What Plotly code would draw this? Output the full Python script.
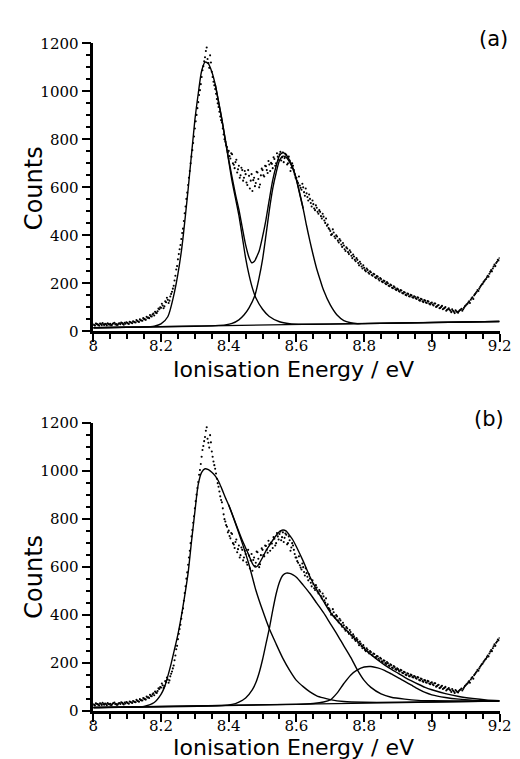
import numpy as np
import plotly.graph_objects as go

# ---------------- data ----------------
# two interleaved sweeps of the same spectrum (0.005 eV steps, offset by half a step)
energy = np.round(np.linspace(8.0, 9.2, 241), 4)
counts = [
    28, 24, 31, 27, 33, 26, 29, 32, 25, 30,
    31, 27, 34, 29, 26, 33, 30, 35, 28, 32,
    36, 31, 38, 34, 40, 37, 43, 39, 46, 44,
    52, 48, 57, 55, 63, 70, 66, 78, 84, 92,
    98, 108, 104, 121, 132, 128, 156, 178, 212, 258,
    300, 342, 385, 428, 492, 552, 610, 668, 728, 785,
    845, 902, 955, 1005, 1060, 1105, 1142, 1183, 1118, 1150,
    1082, 1040, 1010, 968, 935, 895, 870, 820, 790, 768,
    752, 720, 738, 694, 705, 662, 690, 650, 672, 640,
    655, 610, 648, 628, 585, 640, 618, 662, 600, 650,
    672, 645, 688, 660, 695, 702, 680, 718, 700, 728,
    738, 712, 745, 722, 735, 700, 712, 682, 690, 655,
    640, 618, 608, 590, 600, 565, 575, 545, 552, 520,
    530, 505, 515, 490, 498, 470, 478, 452, 440, 430,
    418, 405, 412, 388, 395, 370, 378, 352, 358, 335,
    345, 322, 330, 305, 312, 292, 298, 275, 282, 262,
    265, 250, 256, 240, 246, 232, 238, 222, 228, 212,
    218, 205, 210, 196, 200, 188, 192, 180, 184, 172,
    175, 165, 170, 158, 162, 150, 156, 145, 150, 140,
    144, 135, 140, 128, 134, 122, 128, 118, 124, 112,
    120, 108, 116, 104, 110, 98, 106, 95, 101, 90,
    96, 86, 92, 82, 88, 80, 84, 90, 86, 98,
    108, 115, 125, 132, 142, 150, 160, 172, 178, 190,
    198, 210, 218, 232, 240, 255, 262, 278, 285, 298,
    305,
]
energy2 = np.round(np.linspace(8.0025, 9.1975, 240), 4)
counts2 = [
    26, 33, 29, 24, 31, 35, 27, 30, 34, 28,
    25, 32, 36, 30, 28, 34, 37, 31, 36, 38,
    33, 40, 36, 42, 38, 47, 41, 50, 45, 55,
    50, 61, 58, 68, 62, 74, 82, 76, 95, 100,
    115, 96, 125, 140, 118, 145, 165, 190, 232, 272,
    322, 360, 410, 460, 520, 578, 640, 700, 755, 812,
    875, 930, 985, 1030, 1088, 1125, 1168, 1135, 1098, 1120,
    1060, 1025, 990, 950, 915, 880, 845, 800, 775, 745,
    730, 742, 700, 680, 715, 675, 640, 682, 628, 668,
    620, 672, 595, 655, 630, 605, 665, 635, 612, 678,
    650, 690, 672, 710, 668, 698, 725, 690, 742, 715,
    748, 725, 705, 740, 695, 728, 668, 700, 672, 640,
    625, 645, 598, 615, 580, 595, 560, 570, 535, 545,
    512, 525, 498, 505, 480, 490, 462, 470, 445, 425,
    402, 425, 395, 400, 378, 385, 362, 368, 342, 350,
    330, 338, 315, 320, 298, 305, 285, 290, 270, 275,
    255, 262, 245, 250, 235, 240, 225, 230, 218, 222,
    208, 212, 200, 205, 190, 195, 182, 188, 175, 178,
    168, 172, 160, 164, 152, 158, 146, 152, 142, 146,
    138, 142, 130, 136, 125, 130, 120, 126, 115, 118,
    112, 116, 102, 108, 96, 102, 92, 97, 86, 92,
    90, 80, 86, 76, 84, 78, 88, 94, 92, 104,
    112, 120, 118, 138, 135, 155, 165, 168, 185, 195,
    205, 215, 225, 228, 248, 250, 270, 272, 290, 295,
]

baseline_E = [8.0, 9.2]
baseline_C = [15, 42]

# panel (a): two components and their sum
a1_E = [8.00, 8.10, 8.15, 8.18, 8.20, 8.22, 8.24, 8.26, 8.28, 8.30, 8.31, 8.32, 8.33, 8.34,
        8.35, 8.36, 8.37, 8.38, 8.39, 8.40, 8.41, 8.42, 8.43, 8.44, 8.45, 8.46, 8.47, 8.48,
        8.50, 8.52, 8.55, 8.58, 8.62, 8.70, 9.20]
a1_C = [15, 17, 18.5, 22, 31, 61, 165, 332, 590, 880, 990, 1085, 1122, 1115,
        1082, 1030, 955, 880, 795, 710, 625, 555, 484, 395, 305, 235, 180, 140,
        92, 62, 40, 32, 29.5, 30, 41]

a2_E = [8.00, 8.30, 8.36, 8.39, 8.41, 8.43, 8.445, 8.46, 8.477, 8.49, 8.50, 8.51, 8.52, 8.53,
        8.54, 8.55, 8.56, 8.57, 8.58, 8.59, 8.60, 8.61, 8.62, 8.63, 8.64, 8.65, 8.66, 8.67,
        8.68, 8.70, 8.72, 8.74, 8.76, 8.78, 8.80, 9.20]
a2_C = [15, 21.5, 24, 27, 33, 48, 68, 98, 148, 225, 300, 400, 505, 595,
        660, 712, 730, 725, 705, 675, 630, 570, 510, 440, 375, 315, 260, 215,
        172, 110, 68, 45, 36, 32, 32.4, 41]

as_E = [8.36, 8.38, 8.40, 8.42, 8.43, 8.44, 8.45, 8.46, 8.468, 8.476, 8.484, 8.49, 8.50,
        8.51, 8.52, 8.53, 8.54, 8.55, 8.56, 8.57, 8.58, 8.59, 8.60, 8.62]
as_C = [1031, 883, 716, 571, 508, 433, 360, 308, 286, 292, 315, 335, 395,
        465, 550, 630, 688, 732, 745, 735, 712, 680, 634, 512]

# panel (b): three components and their sum
b1_E = [8.00, 8.10, 8.15, 8.18, 8.20, 8.21, 8.22, 8.23, 8.24, 8.25, 8.26, 8.27, 8.28, 8.29,
        8.30, 8.31, 8.32, 8.33, 8.34, 8.35, 8.36, 8.37, 8.38, 8.39, 8.40, 8.42, 8.44, 8.46,
        8.48, 8.50, 8.52, 8.54, 8.56, 8.58, 8.60, 8.62, 8.64, 8.66, 8.68, 8.70, 8.74, 8.80,
        8.90, 9.20]
b1_C = [15, 17, 20, 36, 70, 99, 145, 198, 258, 320, 395, 480, 575, 705,
        830, 945, 995, 1010, 1006, 995, 980, 958, 925, 890, 858, 782, 700, 610,
        505, 420, 343, 280, 220, 170, 128, 102, 80, 64, 55, 48, 40, 37,
        37, 42]

b2_E = [8.00, 8.38, 8.41, 8.43, 8.45, 8.47, 8.48, 8.49, 8.50, 8.51, 8.52, 8.53, 8.54, 8.55,
        8.56, 8.57, 8.58, 8.59, 8.60, 8.62, 8.64, 8.66, 8.68, 8.70, 8.72, 8.74, 8.76, 8.78,
        8.80, 8.82, 8.85, 8.88, 8.92, 8.96, 9.00, 9.20]
b2_C = [15, 23, 28, 38, 55, 90, 118, 160, 215, 280, 345, 420, 488, 538,
        566, 575, 574, 568, 558, 525, 490, 450, 410, 365, 320, 272, 225, 172,
        128, 99, 72, 58, 50, 45, 43, 42]

b3_E = [8.00, 8.60, 8.65, 8.68, 8.70, 8.72, 8.74, 8.76, 8.78, 8.80, 8.82, 8.84, 8.86, 8.88,
        8.90, 8.92, 8.94, 8.96, 8.98, 9.00, 9.04, 9.08, 9.12, 9.20]
b3_C = [15, 28, 32, 38, 47, 75, 115, 150, 172, 184, 186, 180, 170, 155,
        140, 124, 108, 92, 78, 68, 57, 50, 46, 42]

bs_E = [8.40, 8.42, 8.44, 8.45, 8.46, 8.47, 8.477, 8.485, 8.49, 8.50, 8.51, 8.52, 8.53, 8.54,
        8.55, 8.56, 8.57, 8.58, 8.59, 8.60, 8.62, 8.64, 8.66, 8.68, 8.70, 8.72, 8.74, 8.76,
        8.78, 8.80, 8.82, 8.84, 8.86, 8.88, 8.90, 8.92, 8.94, 8.96, 8.98, 9.00, 9.04, 9.08,
        9.12, 9.16, 9.20]
bs_C = [860, 785, 712, 680, 648, 615, 601, 605, 615, 640, 668, 690, 712, 732,
        748, 755, 750, 732, 712, 685, 625, 560, 505, 458, 412, 378, 348, 320,
        292, 262, 236, 213, 193, 175, 158, 141, 126, 112, 99, 89, 73, 61,
        53, 47, 44]

x_ticks = [8, 8.2, 8.4, 8.6, 8.8, 9, 9.2]
x_labels = ["8", "8.2", "8.4", "8.6", "8.8", "9", "9.2"]
y_ticks = [0, 200, 400, 600, 800, 1000, 1200]
y_labels = ["0", "200", "400", "600", "800", "1000", "1200"]
x_title = "Ionisation Energy / eV"
y_title = "Counts"
panel_labels = ["(a)", "(b)"]

# ---------------- figure ----------------
W, H = 520, 759
fig = go.Figure()

line_style = dict(color="black", width=1.4, shape="spline", smoothing=0.7)
dot_style = dict(color="black", size=2.1)

def add_panel(xa, ya, curves):
    for ex, cy in [(energy, counts), (energy2, counts2)]:
        fig.add_trace(go.Scatter(x=ex, y=cy, mode="markers", xaxis=xa, yaxis=ya,
                                 marker=dot_style, showlegend=False, hoverinfo="skip"))
    fig.add_trace(go.Scatter(x=baseline_E, y=baseline_C, mode="lines", xaxis=xa, yaxis=ya,
                             line=dict(color="black", width=1.3), showlegend=False))
    for ex, cy in curves:
        fig.add_trace(go.Scatter(x=ex, y=cy, mode="lines", xaxis=xa, yaxis=ya,
                                 line=line_style, showlegend=False))

add_panel("x", "y", [(a1_E, a1_C), (a2_E, a2_C), (as_E, as_C)])
add_panel("x2", "y2", [(b1_E, b1_C), (b2_E, b2_C), (b3_E, b3_C), (bs_E, bs_C)])

def px_x(p):
    return p / W

def px_y(p):
    return (H - p) / H

tick_font = dict(family="DejaVu Serif", size=15, color="black")
xdom = [px_x(83), px_x(503)]

def xaxis_cfg(anchor):
    return dict(domain=xdom, anchor=anchor, range=[8, 9.2], tickmode="array",
                tickvals=x_ticks, ticktext=x_labels, ticks="outside", ticklen=8,
                tickwidth=2, tickcolor="black", showline=True, linewidth=2.5,
                linecolor="black", showgrid=False, zeroline=False, tickfont=tick_font,
                ticklabelstandoff=-9,
                minor=dict(dtick=0.05, tick0=8, ticks="outside", ticklen=5,
                           tickwidth=2, tickcolor="black", showgrid=False))

def yaxis_cfg(anchor, dom):
    return dict(domain=dom, anchor=anchor, range=[0, 1200], tickmode="array",
                tickvals=y_ticks, ticktext=y_labels, ticks="outside", ticklen=9,
                tickwidth=2, tickcolor="black", showline=True, linewidth=2.5,
                linecolor="black", showgrid=False, zeroline=False, tickfont=tick_font,
                minor=dict(dtick=50, tick0=0, ticks="outside", ticklen=5,
                           tickwidth=2, tickcolor="black", showgrid=False))

fig.update_layout(
    width=W, height=H, margin=dict(l=0, r=0, t=0, b=0),
    paper_bgcolor="white", plot_bgcolor="white",
    xaxis=xaxis_cfg("y"), yaxis=yaxis_cfg("x", [px_y(322), px_y(27)]),
    xaxis2=xaxis_cfg("y2"), yaxis2=yaxis_cfg("x2", [px_y(711), px_y(416)]),
)

title_font = dict(family="DejaVu Sans", size=22, color="black")
ann = []
for yc in [361, 748]:
    ann.append(dict(text=x_title, x=px_x(290), y=px_y(yc), xref="paper", yref="paper",
                    showarrow=False, xanchor="center", yanchor="middle",
                    font=title_font))
for yc in [175, 573]:
    ann.append(dict(text=y_title, x=px_x(22), y=px_y(yc), xref="paper", yref="paper",
                    showarrow=False, xanchor="center", yanchor="middle", textangle=-90,
                    font=dict(family="DejaVu Sans", size=24, color="black")))
for lab, (xc, yc) in zip(panel_labels, [(497, 23), (492, 412)]):
    ann.append(dict(text=lab, x=px_x(xc), y=px_y(yc), xref="paper", yref="paper",
                    showarrow=False, xanchor="center", yanchor="middle",
                    font=dict(family="DejaVu Sans", size=21, color="black")))
fig.update_layout(annotations=ann)

fig.write_html("out.html")
